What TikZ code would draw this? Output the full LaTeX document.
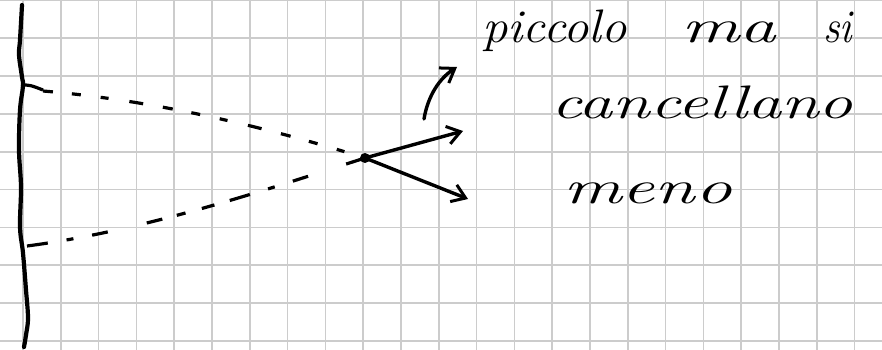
\documentclass[tikz,border=0pt]{standalone}
\usetikzlibrary{arrows.meta}
\begin{document}
\begin{tikzpicture}[x=1pt,y=-1pt,
  gridline/.style={draw=black!20,line width=1.6pt},
  ink/.style={draw=black,line width=3.4pt,line cap=round,line join=round},
  ray/.style={ink,line width=3.2pt,line cap=butt},
  tip/.style={-{Straight Barb[length=13pt,width=18pt,line width=3pt]}},
  hand/.style={font=\fontsize{47}{50}\selectfont\itshape,inner sep=0pt,anchor=base west,text=black},
  dot/.style={circle,fill=black,minimum size=10pt,inner sep=0pt}]
\useasboundingbox (0,0) rectangle (882,350);
\fill[white] (0,0) rectangle (882,350);

% squared paper
\foreach \k in {0,...,9}
  \draw[gridline] (0,{0.5+37.8*\k}) -- (882,{0.5+37.8*\k});
\foreach \k in {0,...,22}
  \draw[gridline] ({22.9+37.8*\k},0) -- ({22.9+37.8*\k},350);

% the wall
\draw[ink,line width=4.2pt] plot[smooth,tension=0.6] coordinates
  {(22,5) (20,40) (19,55) (22,77) (23,86) (20,110) (19,150) (21,187)
   (20,227) (23,253) (26,290) (28,318) (26,335) (24,347)};

% named points
\coordinate (w1) at (21,85);
\coordinate (w2) at (27,246);
\coordinate (e1) at (463,131);
\coordinate (e2) at (468,199);
\coordinate (c0) at (424,119);
\coordinate (c1) at (457,67);

% rays from the wall to the crossing point
\draw[ray] (w1) .. controls (30,85) .. (43,90);
\draw[ray,dash pattern=on 10pt off 19pt on 9pt off 20pt on 8pt off 21pt on 14pt off 20pt]
  (43,91) .. controls (150,100) and (260,125) .. (365,158);
\draw[ray,dash pattern=on 21pt off 19pt on 7pt off 19pt on 16pt off 40pt on 16pt off 15pt on 9pt off 17pt on 13pt off 16pt]
  (w2) .. controls (150,230) and (280,185) .. (365,158);
\node[dot] (x) at (365,158) {};

% outgoing arrows
\draw[ink,tip] (x.center) -- (e1);
\draw[ink,tip] (x.center) -- (e2);
\draw[ink,tip] (c0) .. controls (428,95) and (440,78) .. (c1);

% handwriting
\node[hand] (w-piccolo) at (482,43) {\scalebox{1.08}[1]{piccolo}};
\node[hand] (w-ma) at (681,43) {\scalebox{1.55}[1]{ma}};
\node[hand] (w-si) at (823,43) {\scalebox{0.88}[1]{si}};
\node[hand] (w-cancellano) at (551,118) {\scalebox{1.45}[1]{cancellano}};
\node[hand] (w-meno) at (563,203) {\scalebox{1.56}[1]{meno}};
\end{tikzpicture}
\end{document}
